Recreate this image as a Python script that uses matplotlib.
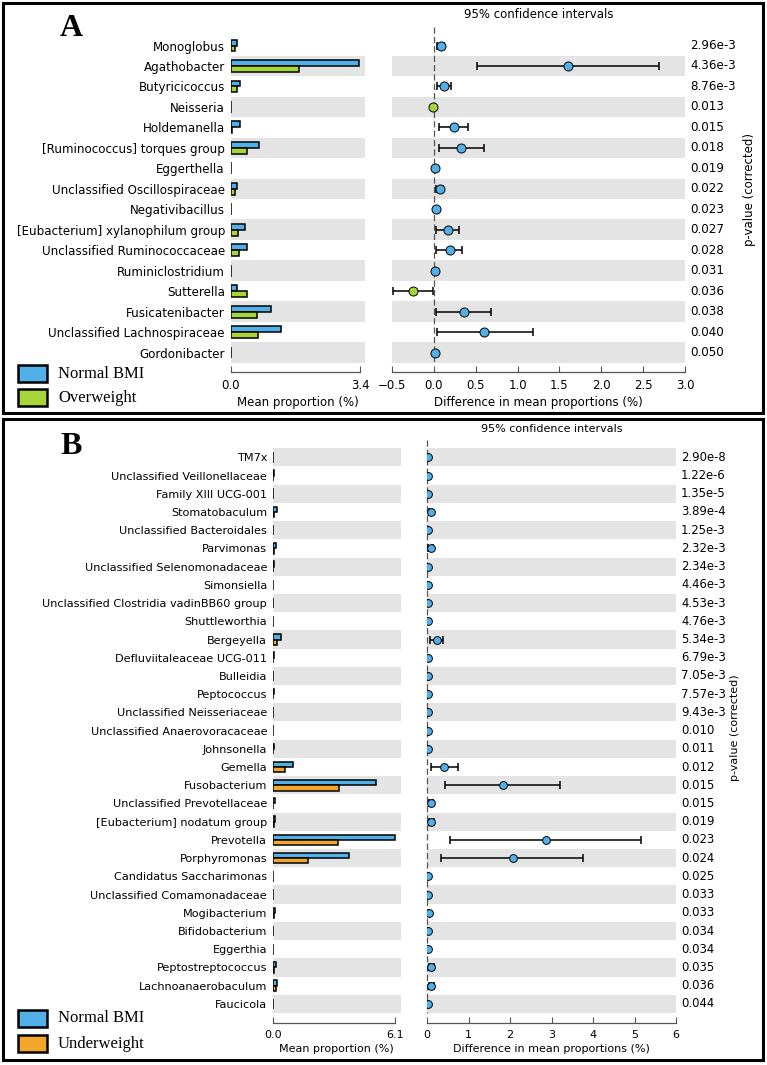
import matplotlib
matplotlib.use('Agg')
import matplotlib.pyplot as plt
from matplotlib.patches import Rectangle
from matplotlib.transforms import blended_transform_factory

W, H = 767, 1065
fig = plt.figure(figsize=(W / 100, H / 100), dpi=100)
plt.rcParams['font.family'] = ['DejaVu Sans']

# ---------------- Panel A data ----------------
taxa_a = ["Monoglobus", "Agathobacter", "Butyricicoccus", "Neisseria", "Holdemanella",
          "[Ruminococcus] torques group", "Eggerthella", "Unclassified Oscillospiraceae",
          "Negativibacillus", "[Eubacterium] xylanophilum group", "Unclassified Ruminococcaceae",
          "Ruminiclostridium", "Sutterella", "Fusicatenibacter", "Unclassified Lachnospiraceae",
          "Gordonibacter"]
normal_a = [0.17, 3.38, 0.26, 0.01, 0.26, 0.74, 0.02, 0.17, 0.02, 0.37, 0.42, 0.01, 0.16, 1.05, 1.33, 0.01]
over_a = [0.13, 1.81, 0.16, 0.02, 0.03, 0.42, 0.01, 0.12, 0.01, 0.19, 0.23, 0.0, 0.44, 0.70, 0.72, 0.0]
diff_a = [0.08, 1.60, 0.12, -0.01, 0.24, 0.33, 0.01, 0.07, 0.02, 0.17, 0.19, 0.01, -0.25, 0.36, 0.60, 0.01]
lo_a = [0.04, 0.51, 0.04, -0.01, 0.06, 0.06, 0.01, 0.03, 0.02, 0.03, 0.03, 0.01, -0.49, 0.03, 0.04, 0.01]
hi_a = [0.12, 2.69, 0.20, -0.01, 0.41, 0.60, 0.01, 0.11, 0.02, 0.30, 0.34, 0.01, -0.01, 0.68, 1.18, 0.01]
p_a = ["2.96e-3", "4.36e-3", "8.76e-3", "0.013", "0.015", "0.018", "0.019", "0.022", "0.023",
       "0.027", "0.028", "0.031", "0.036", "0.038", "0.040", "0.050"]
ticks_a_left = [0.0, 3.4]
ticks_a_right = [-0.5, 0.0, 0.5, 1.0, 1.5, 2.0, 2.5, 3.0]

# ---------------- Panel B data ----------------
taxa_b = ["TM7x", "Unclassified Veillonellaceae", "Family XIII UCG-001", "Stomatobaculum",
          "Unclassified Bacteroidales", "Parvimonas", "Unclassified Selenomonadaceae", "Simonsiella",
          "Unclassified Clostridia vadinBB60 group", "Shuttleworthia", "Bergeyella",
          "Defluviitaleaceae UCG-011", "Bulleidia", "Peptococcus", "Unclassified Neisseriaceae",
          "Unclassified Anaerovoracaceae", "Johnsonella", "Gemella", "Fusobacterium",
          "Unclassified Prevotellaceae", "[Eubacterium] nodatum group", "Prevotella", "Porphyromonas",
          "Candidatus Saccharimonas", "Unclassified Comamonadaceae", "Mogibacterium", "Bifidobacterium",
          "Eggerthia", "Peptostreptococcus", "Lachnoanaerobaculum", "Faucicola"]
normal_b = [0.03, 0.06, 0.03, 0.20, 0.02, 0.18, 0.06, 0.02, 0.02, 0.02, 0.41, 0.05, 0.03, 0.06, 0.03,
            0.03, 0.06, 1.03, 5.14, 0.12, 0.13, 6.10, 3.81, 0.03, 0.03, 0.10, 0.03, 0.02, 0.15, 0.23, 0.03]
under_b = [0.0, 0.01, 0.0, 0.06, 0.0, 0.05, 0.02, 0.0, 0.0, 0.0, 0.23, 0.02, 0.0, 0.03, 0.0,
           0.0, 0.02, 0.61, 3.31, 0.03, 0.04, 3.24, 1.75, 0.0, 0.0, 0.06, 0.0, 0.0, 0.07, 0.14, 0.0]
diff_b = [0.02, 0.03, 0.02, 0.10, 0.02, 0.10, 0.03, 0.02, 0.02, 0.02, 0.24, 0.03, 0.02, 0.03, 0.02,
          0.02, 0.03, 0.40, 1.82, 0.10, 0.10, 2.86, 2.07, 0.02, 0.03, 0.05, 0.02, 0.02, 0.10, 0.10, 0.02]
lo_b = [0.02, 0.03, 0.02, 0.05, 0.02, 0.02, 0.03, 0.02, 0.02, 0.02, 0.08, 0.03, 0.02, 0.03, 0.02,
        0.02, 0.03, 0.10, 0.44, 0.04, 0.04, 0.56, 0.34, 0.02, 0.03, 0.05, 0.02, 0.02, 0.04, 0.04, 0.02]
hi_b = [0.02, 0.03, 0.02, 0.13, 0.02, 0.15, 0.03, 0.02, 0.02, 0.02, 0.38, 0.03, 0.02, 0.03, 0.02,
        0.02, 0.03, 0.74, 3.21, 0.15, 0.16, 5.16, 3.77, 0.02, 0.03, 0.05, 0.02, 0.02, 0.16, 0.17, 0.02]
p_b = ["2.90e-8", "1.22e-6", "1.35e-5", "3.89e-4", "1.25e-3", "2.32e-3", "2.34e-3", "4.46e-3",
       "4.53e-3", "4.76e-3", "5.34e-3", "6.79e-3", "7.05e-3", "7.57e-3", "9.43e-3", "0.010", "0.011",
       "0.012", "0.015", "0.015", "0.019", "0.023", "0.024", "0.025", "0.033", "0.033", "0.034",
       "0.034", "0.035", "0.036", "0.044"]
ticks_b_left = [0.0, 6.1]
ticks_b_right = [0, 1, 2, 3, 4, 5, 6]

BLUE = '#52B0E8'
GREEN = '#A6D63A'
ORANGE = '#F2A72A'
SHADE = '#E4E4E4'


def ax_px(l, t, r, b):
    return fig.add_axes([l / W, 1 - b / H, (r - l) / W, (b - t) / H])


def style_bottom(ax, bounds, outward_pt, fs):
    for s in ['left', 'top', 'right']:
        ax.spines[s].set_visible(False)
    ax.spines['bottom'].set_position(('outward', outward_pt))
    ax.spines['bottom'].set_bounds(*bounds)
    ax.spines['bottom'].set_color('#555555')
    ax.spines['bottom'].set_linewidth(0.9)
    ax.tick_params(axis='x', direction='in', length=4, width=0.8, color='#555555',
                   labelsize=fs, pad=5)
    ax.tick_params(axis='y', length=0)


def panel(rows_top, step, n, left_l, left_r, left_xmax, right_l, right_r, right_lim,
          taxa, g1, g2, diff, lo, hi, pvals, col2, shade_parity, lticks, rticks, tickfmt_l,
          tickfmt_r, fs_name, fs, fs_p, outward_pt, ms, dash_top, pval_label_xy, ci_y):
    top = rows_top - 0.5 * step
    bottom = rows_top + (n - 0.5) * step
    rows = list(range(n))

    # left: mean proportions
    axl = ax_px(left_l, top, left_r, bottom)
    for i in rows:
        if i % 2 == shade_parity:
            axl.axhspan(i - 0.5, i + 0.5, color=SHADE, lw=0, zorder=0)
    h = 0.29
    axl.barh([r - h / 2 for r in rows], g1, height=h, color=BLUE, edgecolor='black', lw=1.1, zorder=2)
    axl.barh([r + h / 2 for r in rows], g2, height=h, color=col2, edgecolor='black', lw=1.1, zorder=2)
    axl.set_ylim(n - 0.5, -0.5)
    axl.set_xlim(0, left_xmax)
    axl.set_yticks(rows)
    axl.set_yticklabels(taxa, fontsize=fs_name)
    axl.tick_params(axis='y', pad=4)
    axl.set_xticks(lticks)
    axl.set_xticklabels([tickfmt_l.format(t) for t in lticks])
    style_bottom(axl, (lticks[0], lticks[-1]), outward_pt, fs)
    axl.set_xlabel('Mean proportion (%)', fontsize=fs, labelpad=3)

    # right: difference with CI
    axr = ax_px(right_l, top, right_r, bottom)
    for i in rows:
        if i % 2 == shade_parity:
            axr.axhspan(i - 0.5, i + 0.5, color=SHADE, lw=0, zorder=0)
    axr.plot([0, 0], [dash_top, n - 0.5], ls=(0, (5, 2.5)), color='#555555', lw=0.9,
             clip_on=False, zorder=1)
    for i in rows:
        c = BLUE if diff[i] > 0 else col2
        axr.errorbar(diff[i], i, xerr=[[diff[i] - lo[i]], [hi[i] - diff[i]]], fmt='none',
                     ecolor='black', elinewidth=1.1, capsize=3, capthick=1.1, zorder=2)
        axr.plot(diff[i], i, 'o', ms=ms, mfc=c, mec='black', mew=0.7, zorder=3)
    axr.set_ylim(n - 0.5, -0.5)
    axr.set_xlim(*right_lim)
    axr.set_yticks([])
    axr.set_xticks(rticks)
    axr.set_xticklabels([tickfmt_r.format(t).replace('-', '\u2212') for t in rticks])
    style_bottom(axr, (right_lim[0], right_lim[1]), outward_pt, fs)
    axr.set_xlabel('Difference in mean proportions (%)', fontsize=fs, labelpad=3)
    tr = blended_transform_factory(axr.transAxes, axr.transData)
    for i in rows:
        axr.text(1 + 5 / (right_r - right_l), i, pvals[i], transform=tr, fontsize=fs_p,
                 va='center', ha='left')
    fig.text((right_l + right_r) / 2 / W, 1 - ci_y / H, '95% confidence intervals',
             fontsize=fs, ha='center', va='center')
    fig.text(pval_label_xy[0] / W, 1 - pval_label_xy[1] / H, 'p-value (corrected)',
             fontsize=fs, rotation=90, ha='center', va='center')


panel(45.5, 20.47, len(taxa_a), 230.5, 365, 3.53, 392, 685, (-0.5, 3.0),
      taxa_a, normal_a, over_a, diff_a, lo_a, hi_a, p_a, GREEN, 1,
      ticks_a_left, ticks_a_right, '{:.1f}', '{:.1f}', 8.6, 8.5, 8.6, 6.6, 6.5, -0.9,
      (750, 190), 15)

panel(457.3, 18.22, len(taxa_b), 272.7, 400.7, 6.38, 427, 676, (0, 6),
      taxa_b, normal_b, under_b, diff_b, lo_b, hi_b, p_b, ORANGE, 0,
      ticks_b_left, ticks_b_right, '{:.1f}', '{:d}', 8.1, 8.0, 8.4, 7.0, 5.6, -0.95,
      (735, 728), 429)

# legends
for (y1, y2, lab2, c2) in [(365, 389, 'Overweight', GREEN), (1010, 1035, 'Underweight', ORANGE)]:
    for (y, lab, c) in [(y1, 'Normal BMI', BLUE), (y2, lab2, c2)]:
        fig.patches.append(Rectangle((18 / W, 1 - (y + 17) / H), 29 / W, 17 / H,
                                     transform=fig.transFigure, facecolor=c,
                                     edgecolor='black', lw=1.8))
        fig.text(58 / W, 1 - (y + 8.5) / H, lab, fontsize=12, family='Liberation Serif',
                 va='center', ha='left')

# panel labels
fig.text(71 / W, 1 - 29 / H, 'A', fontsize=23, family='Liberation Serif', weight='bold',
         ha='center', va='center')
fig.text(71 / W, 1 - 447 / H, 'B', fontsize=23, family='Liberation Serif', weight='bold',
         ha='center', va='center')

# panel frames
for (t, b) in [(3, 413), (419, 1060)]:
    fig.patches.append(Rectangle((3 / W, 1 - b / H), 760 / W, (b - t) / H,
                                 transform=fig.transFigure, fill=False,
                                 edgecolor='black', lw=2.2))

fig.savefig('out.png', dpi=100)
